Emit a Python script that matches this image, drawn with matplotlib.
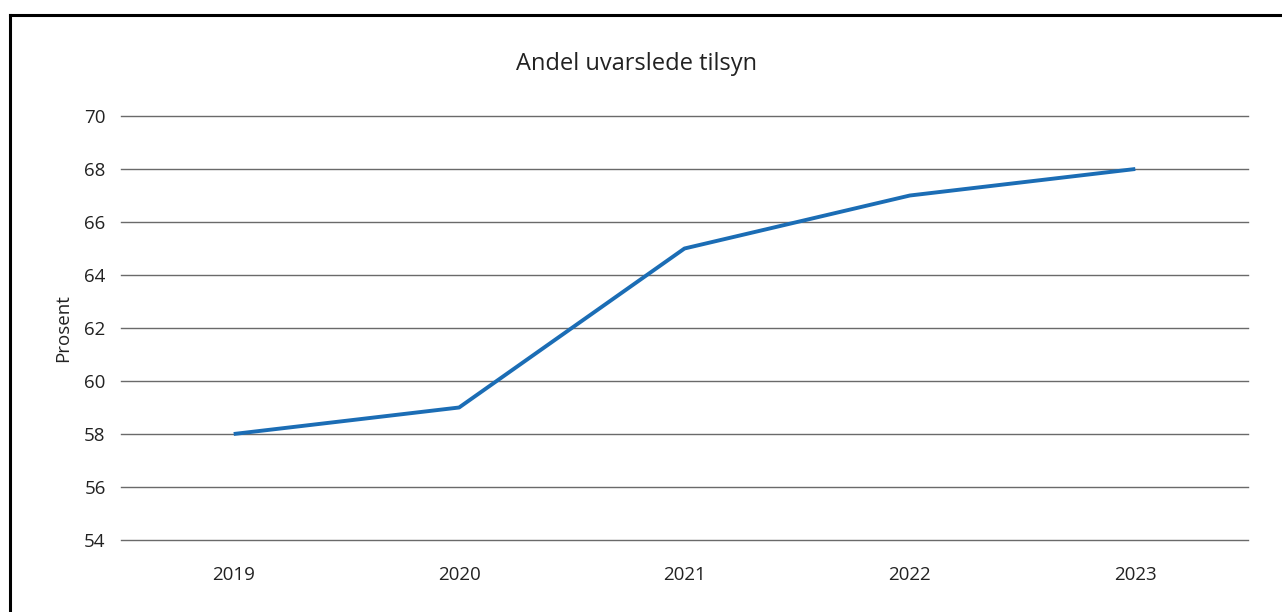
import matplotlib
matplotlib.use("Agg")
import matplotlib.pyplot as plt
from matplotlib.lines import Line2D

years = ["2019", "2020", "2021", "2022", "2023"]
values = [58, 59, 65, 67, 68]
yticks = [54, 56, 58, 60, 62, 64, 66, 68, 70]

plt.rcParams['font.family'] = ['Open Sans', 'DejaVu Sans']

W, H = 1282, 612
fig = plt.figure(figsize=(W / 100, H / 100), dpi=100)
fig.patch.set_facecolor("white")

ax = fig.add_axes([121 / W, (H - 540) / H, (1248 - 121) / W, (540 - 116) / H])
x = list(range(len(years)))
ax.plot(x, values, color="#1b6db5", linewidth=2.8, solid_capstyle="butt", zorder=3)
ax.set_xlim(-0.5, len(years) - 0.5)
ax.set_ylim(54, 70)
ax.set_yticks(yticks)
ax.set_xticks(x)
ax.set_xticklabels(years)
ax.yaxis.grid(True, color="#6a6a6a", linewidth=1.0)
for gl in ax.get_ygridlines():
    gl.set_clip_on(False)
ax.set_axisbelow(True)
for s in ax.spines.values():
    s.set_visible(False)
ax.tick_params(axis="both", length=0, labelsize=13.5, colors="#222222")
ax.tick_params(axis="y", pad=11)
ax.tick_params(axis="x", pad=19)
ax.set_ylabel("Prosent", fontsize=13.5, color="#222222", labelpad=9)

fig.text(636 / W, 1 - 64 / H, "Andel uvarslede tilsyn", ha="center", va="center",
         fontsize=17, color="#222222")

# frame lines (left and top)
fig.add_artist(Line2D([9.5 / W, 9.5 / W], [0, 1 - 15 / H], color="black", linewidth=2.2,
                      transform=fig.transFigure))
fig.add_artist(Line2D([9.5 / W, 1], [1 - 15 / H, 1 - 15 / H], color="black", linewidth=2.2,
                      transform=fig.transFigure))

fig.savefig("out.png", dpi=100)
